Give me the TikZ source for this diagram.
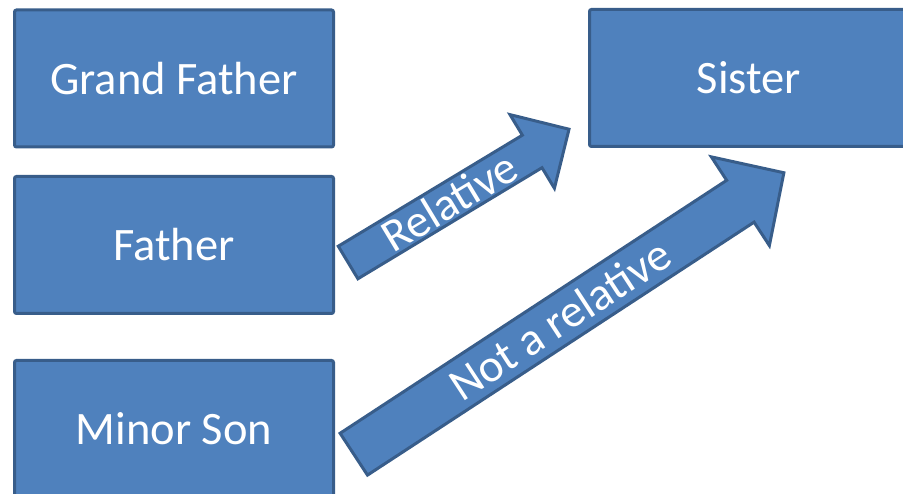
\documentclass[tikz,border=0pt]{standalone}
\usepackage{fontspec}
\setmainfont{Carlito}
\definecolor{boxfill}{HTML}{4F81BD}
\definecolor{boxline}{HTML}{385D8A}
\begin{document}
\begin{tikzpicture}[x=1pt,y=1pt,
  label font/.style={text=white, font=\fontsize{46.5}{50}\selectfont},
  member/.style={draw=boxline, fill=boxfill, line width=3pt, rounded corners=2pt,
    minimum width=319pt, minimum height=137pt, inner sep=0pt, label font},
  arrowbody/.style={draw=boxline, fill=boxfill, line width=3pt, line join=miter},
  arrowtext/.style={label font, inner sep=0pt, transform shape}]
\useasboundingbox (0,0) rectangle (903,494);
\clip (0,0) rectangle (903,494);

% family members
\node[member] (grandfather) at (174,415.5) {Grand Father};
\node[member] (father)      at (174,249)   {Father};
\node[member] (minorson)    at (174,65)    {Minor Son};
\node[member] (sister)      at (749,416)   {Sister};

% block arrow: Father -> Sister
\begin{scope}[shift={(348.1,231.5)}, rotate=31.1]
  \draw[arrowbody] (0,-19) -- (215,-19) -- (215,-43) -- (258,0)
    -- (215,43) -- (215,19) -- (0,19) -- cycle;
  \node[arrowtext] (relative) at (118,0) {Relative};
\end{scope}

% block arrow: Minor Son -> Sister
\begin{scope}[shift={(353.8,39.8)}, rotate=33.2]
  \draw[arrowbody] (0,-25) -- (462,-25) -- (462,-53) -- (514,0)
    -- (462,53) -- (462,25) -- (0,25) -- cycle;
  \node[arrowtext] (notrelative) at (246,0) {Not a relative};
\end{scope}
\end{tikzpicture}
\end{document}
